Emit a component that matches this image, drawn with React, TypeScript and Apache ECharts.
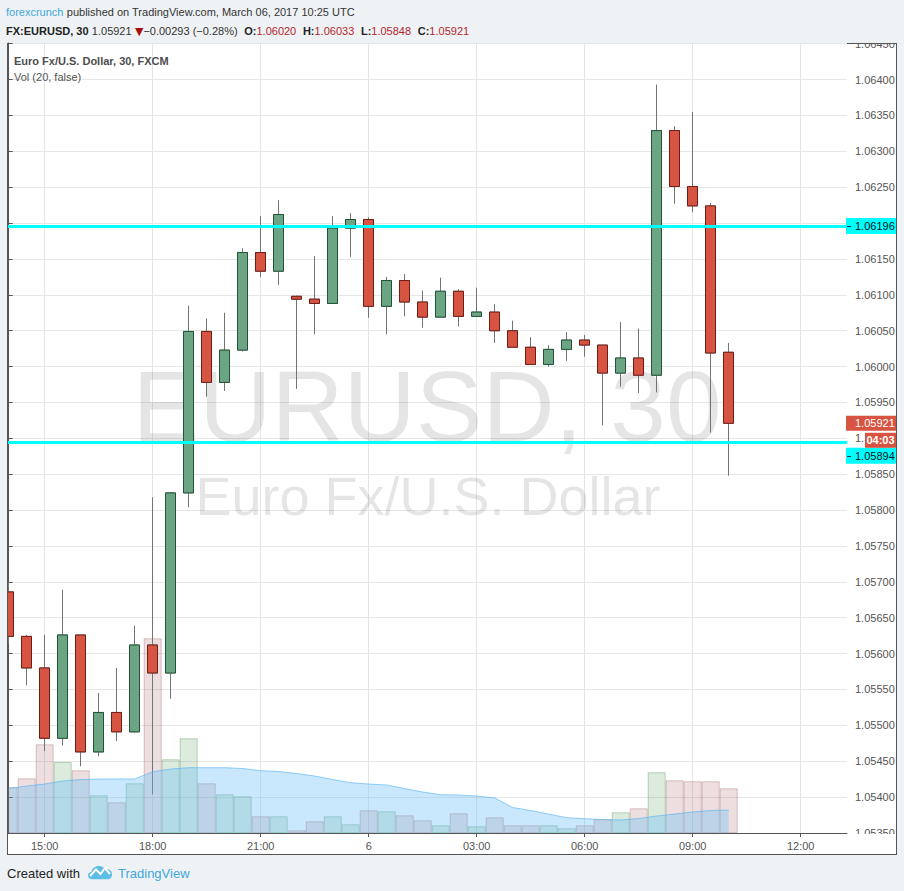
import React, { useEffect, useRef } from "react";
import * as echarts from "echarts";

// 30-minute candles, oldest first (index 0 = 14:00, index 40 = 10:00)
const opens = [
  1.05686, 1.05624, 1.0558, 1.05482, 1.05626, 1.05463, 1.05518, 1.05491, 1.05612, 1.05573,
  1.05824, 1.06049, 1.05978, 1.06023, 1.06159, 1.06133, 1.06098, 1.06094, 1.06088, 1.06193,
  1.06205, 1.06084, 1.0612, 1.0609, 1.06069, 1.06105, 1.0607, 1.06076, 1.0605, 1.06027,
  1.06003, 1.06024, 1.06037, 1.0603, 1.05991, 1.06012, 1.05988, 1.06329, 1.06251, 1.06224,
  1.0602,
];
const highs = [
  1.057, 1.05626, 1.05626, 1.05689, 1.05626, 1.05545, 1.0558, 1.05639, 1.05818, 1.05825,
  1.06085, 1.06067, 1.06075, 1.06165, 1.0621, 1.06232, 1.06099, 1.06154, 1.0621, 1.06214,
  1.06208, 1.06125, 1.06129, 1.06106, 1.06124, 1.06108, 1.0611, 1.06087, 1.06064, 1.06041,
  1.0603, 1.06048, 1.06044, 1.0603, 1.06062, 1.06053, 1.06393, 1.06335, 1.06355, 1.06228,
  1.06033,
];
const lows = [
  1.05614, 1.05556, 1.05464, 1.05472, 1.05443, 1.05457, 1.05478, 1.0549, 1.05404, 1.05537,
  1.05804, 1.05958, 1.05966, 1.06021, 1.06125, 1.06114, 1.05969, 1.06045, 1.06088, 1.06153,
  1.06068, 1.06045, 1.0607, 1.06054, 1.06069, 1.06056, 1.0607, 1.06033, 1.06027, 1.06003,
  1.06, 1.06008, 1.06014, 1.05918, 1.05972, 1.05963, 1.05964, 1.06227, 1.06215, 1.05908,
  1.05848,
];
const closes = [
  1.05624, 1.0558, 1.05482, 1.05626, 1.05463, 1.05518, 1.05491, 1.05612, 1.05573, 1.05824,
  1.06049, 1.05978, 1.06023, 1.06159, 1.06133, 1.06212, 1.06094, 1.06088, 1.06193, 1.06205,
  1.06084, 1.0612, 1.0609, 1.06069, 1.06105, 1.0607, 1.06076, 1.0605, 1.06027, 1.06003,
  1.06024, 1.06037, 1.0603, 1.05991, 1.06012, 1.05988, 1.06329, 1.06251, 1.06224, 1.06019,
  1.05921,
];
const volumes = [
  914, 1094, 1774, 1420, 1254, 754, 614, 994, 3894, 1474,
  1894, 994, 774, 734, 334, 334, 54, 234, 334, 174,
  454, 434, 354, 254, 154, 394, 134, 314, 154, 154,
  154, 94, 154, 274, 414, 494, 1214, 1054, 1034, 1034,
  894,
];
const volumeMA = [
  890, 940, 980, 1040, 1070, 1080, 1080, 1080, 1226, 1280,
  1306, 1306, 1306, 1290, 1246, 1230, 1190, 1140, 1070, 1006,
  980, 960, 890, 820, 766, 760, 740, 700, 510, 450,
  380, 306, 286, 270, 260, 290, 340, 380, 420, 450,
  460,
];

const xTickIndex = [2, 8, 14, 20, 26, 32, 38, 44];
const xTickLabels = ["15:00", "18:00", "21:00", "6", "03:00", "06:00", "09:00", "12:00"];
const levelLines = [1.06196, 1.05894];
const changeText = "\u22120.00293 (\u22120.28%)";
const countdownText = "04:03";
const publishedText = "published on TradingView.com, March 06, 2017 10:25 UTC";

const FONT = '"Liberation Sans", Arial, Helvetica, sans-serif';
const PAGE_BG = "#eff2f5";
const UP = "#6ba583";
const DOWN = "#d75442";
const RED_TXT = "#b5262b";

let logoRegistered = false;
function registerLogo() {
  if (logoRegistered) return;
  echarts.graphic.registerShape(
    "tvcloud",
    echarts.graphic.extendPath(
      "M4 16C1.8 16 0 14.2 0 12C0 10 1.4 8.4 3.3 8.1C4 4.6 7.1 2 10.8 2C13.6 2 16 3.5 17.3 5.8C17.9 5.6 18.5 5.5 19.2 5.5C21.9 5.5 24 7.7 24 10.5L24 11C24 13.8 22 16 19.5 16Z",
      {}
    ) as any
  );
  logoRegistered = true;
}

function txt(x: number, y: number, text: string, extra: any = {}, z = 20) {
  return {
    type: "text",
    z,
    silent: true,
    style: {
      x,
      y,
      text,
      fontFamily: FONT,
      fontSize: 11,
      fill: "#333",
      verticalAlign: "middle",
      ...extra,
    },
  };
}

export default function App() {
  const ref = useRef<HTMLDivElement | null>(null);

  useEffect(() => {
    if (!ref.current) return;
    registerLogo();
    const chart = echarts.init(ref.current, null, { renderer: "svg" });

    const n = opens.length;
    const candleData = opens.map((o, i) => [i, o, closes[i], lows[i], highs[i]]);
    const bodyData = opens.map((o, i) => [i, o, closes[i], Math.min(o, closes[i]), Math.max(o, closes[i])]);
    const volData = volumes.map((v, i) => {
      const up = closes[i] >= opens[i];
      return {
        value: [i, v],
        itemStyle: up
          ? { color: "rgba(80,155,85,0.2)", borderColor: "rgba(80,155,85,0.38)", borderWidth: 1 }
          : { color: "rgba(155,80,80,0.18)", borderColor: "rgba(155,80,80,0.32)", borderWidth: 1 },
      };
    });

    const priceAxisBase = {
      type: "value",
      position: "right",
      min: 1.0535,
      max: 1.06451,
      interval: 0.0005,
      axisLine: { show: true, lineStyle: { color: "#555", width: 1 } },
      axisTick: { show: true, length: 4, lineStyle: { color: "#555" } },
      splitLine: { show: true, lineStyle: { color: "#e6e6e6", width: 1 } },
    };
    const labelBase = {
      color: "#555",
      fontSize: 11,
      fontFamily: FONT,
      margin: 8,
      showMaxLabel: false,
    };

    chart.setOption({
      animation: false,
      textStyle: { fontFamily: FONT },
      grid: { left: 7, right: 57, top: 43, bottom: 58, containLabel: false },
      xAxis: {
        type: "value",
        min: -0.094,
        max: 46.572,
        axisLine: { show: true, lineStyle: { color: "#555", width: 1 } },
        axisTick: { show: true, length: 4, customValues: xTickIndex, lineStyle: { color: "#555" } },
        axisLabel: {
          customValues: xTickIndex,
          formatter: (v: number) => {
            const k = xTickIndex.indexOf(Math.round(v));
            return k >= 0 ? xTickLabels[k] : "";
          },
          color: "#555",
          fontSize: 11,
          fontFamily: FONT,
          margin: 7,
        },
        splitLine: { show: true, lineStyle: { color: "#e6e6e6", width: 1 } },
      },
      yAxis: [
        { ...priceAxisBase, axisLabel: { ...labelBase, formatter: (v: number) => v.toFixed(5) } },
        { type: "value", min: 0, max: 15800, show: false, splitLine: { show: false } },
      ],
      series: [
        {
          type: "line",
          name: "Vol MA",
          yAxisIndex: 1,
          data: volumeMA.map((v, i) => [i, v]),
          symbol: "none",
          silent: true,
          lineStyle: { color: "rgba(80,175,245,0.6)", width: 1 },
          areaStyle: { color: "rgba(100,190,250,0.5)" },
        },
        {
          type: "bar",
          name: "Volume",
          yAxisIndex: 1,
          barWidth: 18,
          silent: true,
          data: volData,
        },
        {
          type: "candlestick",
          name: "wicks",
          barWidth: 10,
          silent: true,
          data: candleData,
          itemStyle: { color: UP, color0: DOWN, borderColor: "#737375", borderColor0: "#737375", borderWidth: 1 },
        },
        {
          type: "candlestick",
          name: "EURUSD",
          barWidth: 10,
          silent: true,
          data: bodyData,
          itemStyle: { color: UP, color0: DOWN, borderColor: "#225437", borderColor0: "#6f1e16", borderWidth: 1 },
          markLine: {
            silent: true,
            precision: 5,
            symbol: ["none", "none"],
            label: { show: false },
            lineStyle: { color: "#00ffff", width: 3, type: "solid" },
            data: levelLines.map((v) => ({ yAxis: v })),
          },
        },
      ],
    });

    const py = (v: number) => chart.convertToPixel({ yAxisIndex: 0 }, v) as unknown as number;
    const last = n - 1;
    const lastPrice = closes[last];
    const yc = py(lastPrice);
    const cdTop = yc + 9.5;
    const cdBottom = cdTop + 15;
    const cdMid = cdTop + 7.5;

    const levelY = levelLines.map((v) => {
      let y = py(v);
      if (y + 8 > cdTop && y - 8 < cdBottom) y = cdBottom + 8;
      return y;
    });

    // tick labels hidden under the price-axis boxes (as in the original)
    const tickFormatter = (v: number) => {
      const y = py(v);
      if (Math.abs(y - yc) < 11) return "";
      if (levelY.some((ly) => Math.abs(y - ly) < 11)) return "";
      if (Math.abs(y - cdMid) < 11) return "1.";
      return v.toFixed(5);
    };

    const elements: any[] = [];
    // header
    elements.push({
      type: "text",
      z: 20,
      silent: true,
      style: {
        x: 6,
        y: 12,
        verticalAlign: "middle",
        text: "{a|forexcrunch} {n|" + publishedText + "}",
        rich: {
          a: { fill: "#3fa7dc", fontSize: 11, fontFamily: FONT },
          n: { fill: "#333", fontSize: 11, fontFamily: FONT },
        },
      },
    });
    elements.push({
      type: "text",
      z: 20,
      silent: true,
      style: {
        x: 6,
        y: 31,
        verticalAlign: "middle",
        text:
          "{b|FX:EURUSD, 30} {n|" + lastPrice.toFixed(5) + "} {t|\u25BC}{n|" + changeText + "}  " +
          "{b|O:}{r|" + opens[last].toFixed(5) + "}  {b|H:}{r|" + highs[last].toFixed(5) + "}  " +
          "{b|L:}{r|" + lows[last].toFixed(5) + "}  {b|C:}{r|" + closes[last].toFixed(5) + "}",
        rich: {
          b: { fill: "#222", fontSize: 11, fontWeight: "bold", fontFamily: FONT },
          n: { fill: "#333", fontSize: 11, fontFamily: FONT },
          r: { fill: RED_TXT, fontSize: 11, fontFamily: FONT },
          t: { fill: "#a81010", fontSize: 11, fontFamily: '"DejaVu Sans", ' + FONT },
        },
      },
    });
    // legend
    elements.push(txt(14, 61, "Euro Fx/U.S. Dollar, 30, FXCM", { fill: "#4d4d4d", fontWeight: "bold" }));
    elements.push(txt(14, 77, "Vol (20, false)", { fill: "#555" }));
    // watermark
    elements.push({
      type: "text",
      z: 0,
      silent: true,
      style: { x: 427, y: 406, text: "EURUSD, 30", align: "center", verticalAlign: "middle", fontSize: 100, fontFamily: FONT, fill: "rgba(0,0,0,0.1)" },
    });
    elements.push({
      type: "text",
      z: 0,
      silent: true,
      style: { x: 428, y: 496, text: "Euro Fx/U.S. Dollar", align: "center", verticalAlign: "middle", fontSize: 54, fontFamily: FONT, fill: "rgba(0,0,0,0.1)" },
    });
    // clipping covers
    elements.push({ type: "rect", z: 15, silent: true, shape: { x: 0, y: 43, width: 7, height: 792 }, style: { fill: PAGE_BG } });
    elements.push({ type: "line", z: 16, silent: true, shape: { x1: 7.5, y1: 43, x2: 7.5, y2: 855 }, style: { stroke: "#555", lineWidth: 1 } });
    elements.push({ type: "rect", z: 15, silent: true, shape: { x: 846, y: 28, width: 58, height: 15 }, style: { fill: PAGE_BG } });
    elements.push({ type: "rect", z: 15, silent: true, shape: { x: 848, y: 834, width: 48, height: 20 }, style: { fill: "#fff" } });

    // level labels on price axis
    levelLines.forEach((v, k) => {
      const y = levelY[k];
      elements.push({ type: "rect", z: 17, silent: true, shape: { x: 846, y: y - 8, width: 50, height: 16 }, style: { fill: "#00ffff" } });
      elements.push({ type: "line", z: 18, silent: true, shape: { x1: 847, y1: Math.round(y) + 0.5, x2: 851, y2: Math.round(y) + 0.5 }, style: { stroke: "#333", lineWidth: 1 } });
      elements.push(txt(855, y, v.toFixed(5), { fill: "#111" }, 18));
    });
    // current price label + countdown
    elements.push({ type: "rect", z: 17, silent: true, shape: { x: 846, y: yc - 7.5, width: 50, height: 15 }, style: { fill: DOWN } });
    elements.push(txt(855, yc, lastPrice.toFixed(5), { fill: "#fff" }, 18));
    elements.push({ type: "rect", z: 17, silent: true, shape: { x: 865, y: cdTop, width: 31, height: 15 }, style: { fill: DOWN } });
    elements.push(txt(880.5, cdMid, countdownText, { fill: "#fff", align: "center", fontWeight: "bold", fontSize: 11 }, 18));

    // footer
    elements.push(txt(7, 873, "Created with", { fill: "#222", fontSize: 13 }));
    elements.push({ type: "tvcloud", z: 20, silent: true, x: 88, y: 864, scaleX: 1, scaleY: 0.95, style: { fill: "#5bbde8" } });
    elements.push({ type: "polyline", z: 21, silent: true, shape: { points: [[90, 876], [96, 869.5], [100.5, 874], [105, 868], [110, 874]] }, style: { stroke: "#fff", lineWidth: 2, fill: "none" } });
    elements.push(txt(118, 873, "TradingView", { fill: "#3fa7dc", fontSize: 13 }));

    chart.setOption({
      yAxis: [{ axisLabel: { ...labelBase, formatter: tickFormatter } }, {}],
      graphic: { elements },
    });

    return () => chart.dispose();
  }, []);

  return (
    <div style={{ position: "fixed", left: 0, top: 0, width: 904, height: 891, background: PAGE_BG }}>
      <div
        style={{
          position: "absolute",
          left: 7,
          top: 43,
          width: 890,
          height: 812,
          background: "#fff",
          border: "1px solid #555",
          boxSizing: "border-box",
        }}
      />
      <div ref={ref} style={{ position: "absolute", left: 0, top: 0, width: 904, height: 891 }} />
    </div>
  );
}
